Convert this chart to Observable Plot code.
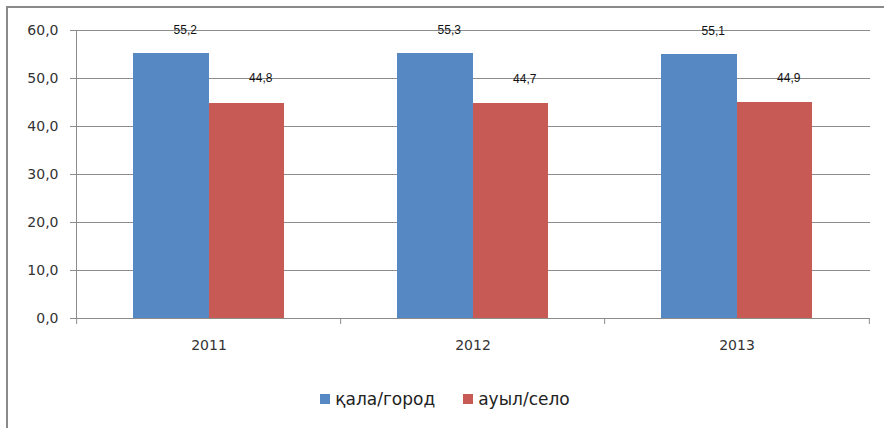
<!DOCTYPE html>
<html>
<head>
<meta charset="utf-8">
<script src="https://cdn.jsdelivr.net/npm/d3@7"></script>
<script src="https://cdn.jsdelivr.net/npm/@observablehq/plot@0.6"></script>
<style>
  html, body { margin: 0; padding: 0; background: #fff; }
  #wrap { position: relative; width: 884px; height: 428px; overflow: hidden; }
  #border { position: absolute; left: 6px; top: 6px; width: 900px; height: 450px; border: 2px solid #8a8a8a; box-sizing: border-box; }
  #chart { position: absolute; left: 0; top: 0; }
  #legend { position: absolute; left: 0; top: 389px; width: 884px; display: flex; justify-content: center; font-family: "DejaVu Sans", sans-serif; font-size: 17px; color: #222; padding-left: 6px; box-sizing: border-box; }
  .item { display: flex; align-items: center; margin: 0 14px; }
  .sw { width: 10px; height: 10px; margin-right: 5px; }
</style>
</head>
<body>
<div id="wrap">
  <div id="border"></div>
  <div id="chart"></div>
  <div id="legend"></div>
</div>
<script>
const years = ["2011", "2012", "2013"];
const seriesNames = ["қала/город", "ауыл/село"];
const cityValues = [55.2, 55.3, 55.1];
const villageValues = [44.8, 44.7, 44.9];
const yTicks = [0, 10, 20, 30, 40, 50, 60];
const colors = ["#5689c4", "#c85a56"];

const fmt = d => d.toFixed(1).replace(".", ",");
const cityData = years.map((year, i) => ({year, value: cityValues[i]}));
const villageData = years.map((year, i) => ({year, value: villageValues[i]}));

const step = (870 - 76) / 3;
const half = step * 0.285 / 2;

const chart = Plot.plot({
  width: 884,
  height: 370,
  marginLeft: 76,
  marginRight: 14,
  marginTop: 30,
  marginBottom: 52,
  style: {fontFamily: "DejaVu Sans, sans-serif", fontSize: "14px", color: "#333", background: "transparent"},
  x: {domain: years, paddingInner: 0.715, paddingOuter: 0.3575},
  y: {domain: [0, 60]},
  marks: [
    Plot.gridY(yTicks, {stroke: "#8c8c8c", strokeOpacity: 1}),
    Plot.barY(cityData, {x: "year", y: "value", fill: colors[0], dx: -half, insetRight: -1, shapeRendering: "crispEdges"}),
    Plot.barY(villageData, {x: "year", y: "value", fill: colors[1], dx: half, shapeRendering: "crispEdges"}),
    Plot.text(cityData, {x: "year", y: "value", text: d => fmt(d.value), dx: -half + 14, dy: -23, fontFamily: "Liberation Sans, sans-serif", fontSize: 12, fill: "#111"}),
    Plot.text(villageData, {x: "year", y: "value", text: d => fmt(d.value), dx: half + 14, dy: -25, fontFamily: "Liberation Sans, sans-serif", fontSize: 12, fill: "#111"}),
    Plot.ruleY([0], {stroke: "#8c8c8c"}),
    Plot.frame({anchor: "left", stroke: "#8c8c8c"}),
    Plot.axisY(yTicks, {tickFormat: fmt, tickSize: 6, tickPadding: 12, stroke: "#8c8c8c", fill: "#333", label: null}),
    Plot.axisX({tickSize: 6, dx: -step / 2, tickFormat: () => "", stroke: "#8c8c8c", label: null}),
    Plot.axisX([years[years.length - 1]], {tickSize: 6, dx: step / 2, tickFormat: () => "", stroke: "#8c8c8c", label: null}),
    Plot.axisX({tickSize: 0, tickPadding: 22, fill: "#333", label: null})
  ]
});
document.getElementById("chart").appendChild(chart);

const legend = document.getElementById("legend");
seriesNames.forEach((name, i) => {
  const item = document.createElement("div");
  item.className = "item";
  const sw = document.createElement("div");
  sw.className = "sw";
  sw.style.background = colors[i];
  const label = document.createElement("span");
  label.textContent = name;
  item.appendChild(sw);
  item.appendChild(label);
  legend.appendChild(item);
});
</script>
</body>
</html>
